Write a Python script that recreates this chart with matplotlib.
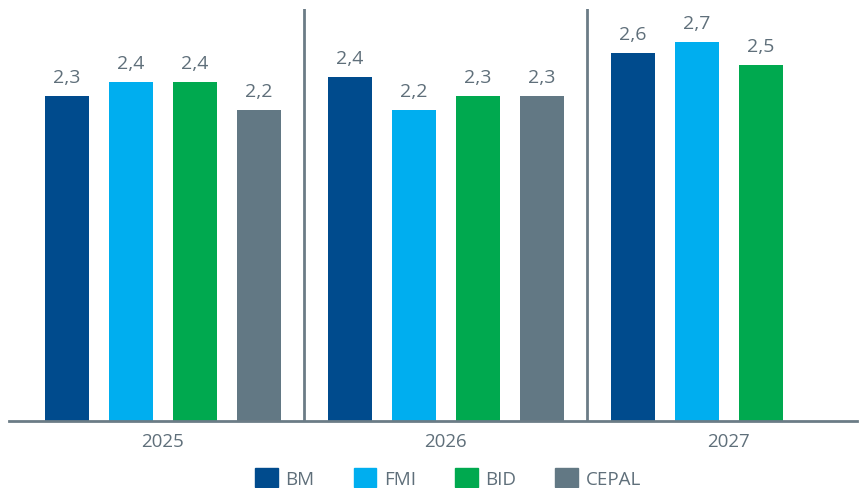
import matplotlib.pyplot as plt
from matplotlib.patches import Patch

plt.rcParams['font.family'] = ['Open Sans', 'DejaVu Sans']

# Data
years = ['2025', '2026', '2027']
series = ['BM', 'FMI', 'BID', 'CEPAL']
values = {
    'BM': [2.3, 2.43, 2.6],
    'FMI': [2.4, 2.2, 2.68],
    'BID': [2.4, 2.3, 2.52],
    'CEPAL': [2.2, 2.3, None],
}
colors = ['#004B8D', '#00AEEF', '#00A94F', '#627884']
text_color = '#5f6f7a'
line_color = '#6b7c86'

group_gap = 4.42
bar_width = 0.69

fig = plt.figure(figsize=(8.59, 4.89), dpi=100)
ax = fig.add_axes([9 / 859, 67.5 / 489, 848 / 859, 411.5 / 489])

for i, name in enumerate(series):
    for g, v in enumerate(values[name]):
        if v is None:
            continue
        x = g * group_gap + i
        ax.bar(x, v, bar_width, color=colors[i])
        ax.text(x, v + 0.07, f'{v:.1f}'.replace('.', ','), ha='center', va='bottom',
                fontsize=14, color=text_color)

# separators between years
for g in range(1, len(years)):
    ax.axvline(g * group_gap - 0.71, color=line_color, lw=2)

ax.set_xlim(-0.9, 12.34)
ax.set_ylim(0, 2.914)
ax.set_xticks([g * group_gap + 1.5 for g in range(len(years))])
ax.set_xticklabels(years, fontsize=13.5, color=text_color)
ax.tick_params(axis='x', length=0, pad=8)
ax.set_yticks([])
for s in ['top', 'right', 'left']:
    ax.spines[s].set_visible(False)
ax.spines['bottom'].set_color(line_color)
ax.spines['bottom'].set_linewidth(2)

handles = [Patch(color=c, label=n) for c, n in zip(colors, series)]
fig.legend(handles=handles, loc='center', bbox_to_anchor=(448 / 859, 1 - 479 / 489), ncol=4,
           frameon=False, fontsize=13.5, labelcolor=text_color, handlelength=1.2,
           handleheight=1.15, handletextpad=0.4, columnspacing=2.1)

fig.savefig('out.png', dpi=100)
